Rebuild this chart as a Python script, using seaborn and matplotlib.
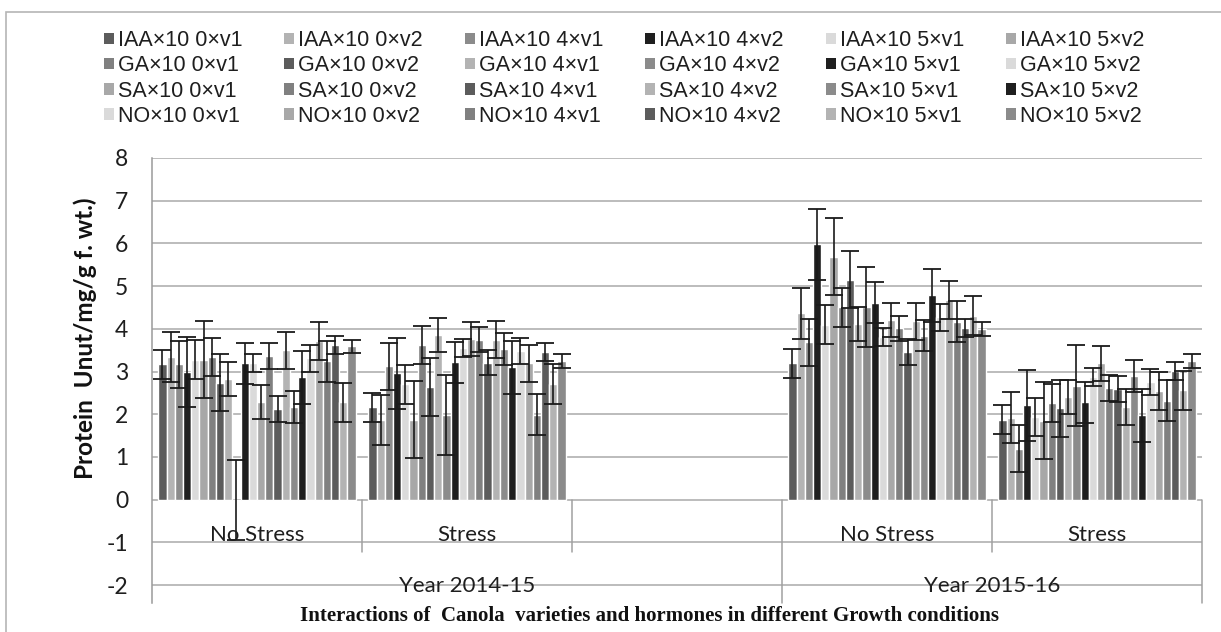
import numpy as np
import pandas as pd
import matplotlib
matplotlib.use("Agg")
import matplotlib.pyplot as plt
from matplotlib.patches import Rectangle, Patch
import seaborn as sns

# Treatments (hormone x dose x variety), in plotting order
SERIES = [
    "IAA×10 0×v1", "IAA×10 0×v2", "IAA×10 4×v1", "IAA×10 4×v2", "IAA×10 5×v1", "IAA×10 5×v2",
    "GA×10 0×v1", "GA×10 0×v2", "GA×10 4×v1", "GA×10 4×v2", "GA×10 5×v1", "GA×10 5×v2",
    "SA×10 0×v1", "SA×10 0×v2", "SA×10 4×v1", "SA×10 4×v2", "SA×10 5×v1", "SA×10 5×v2",
    "NO×10 0×v1", "NO×10 0×v2", "NO×10 4×v1", "NO×10 4×v2", "NO×10 5×v1", "NO×10 5×v2",
]

# Category slots on the x axis (the third slot of 2014-15 is left empty)
CATEGORIES = ["2014-15 No Stress", "2014-15 Stress", "2014-15 spare",
              "2015-16 No Stress", "2015-16 Stress"]
CONDITION_LABELS = ["No Stress", "Stress", "", "No Stress", "Stress"]
YEAR_LABELS = ["Year 2014-15", "Year 2015-16"]

# Protein content (Unut/mg/g f. wt.)
NS_2014 = [3.17, 3.34, 3.17, 2.99, 3.28, 3.28, 3.34, 2.74, 2.82, 0.00, 3.19, 3.20,
           2.28, 3.37, 2.12, 3.50, 2.17, 2.87, 3.31, 3.72, 3.24, 3.63, 2.28, 3.59]
S_2014 = [2.16, 1.87, 3.12, 2.96, 2.70, 1.87, 3.62, 2.64, 3.86, 1.98, 3.22, 3.55,
          3.76, 3.75, 3.21, 3.75, 3.53, 3.10, 3.48, 3.19, 1.99, 3.45, 2.71, 3.24]
NS_2015 = [3.19, 4.36, 3.68, 5.98, 4.10, 5.69, 4.50, 5.15, 4.12, 4.51, 4.61, 3.81,
           4.21, 4.01, 3.46, 4.18, 3.84, 4.79, 4.27, 4.67, 4.17, 4.01, 4.31, 3.99]
S_2015 = [1.87, 1.92, 1.19, 2.21, 1.94, 1.85, 2.26, 2.14, 2.41, 2.67, 2.28, 2.87,
          3.19, 2.62, 2.59, 2.17, 2.89, 1.98, 2.75, 2.55, 2.32, 3.02, 2.56, 3.24]

# Error bar half-lengths per treatment
ERR = [0.34, 0.59, 0.55, 0.83, 0.45, 0.90, 0.45, 0.67, 0.40, 0.94, 0.48, 0.21,
       0.40, 0.30, 0.30, 0.43, 0.37, 0.62, 0.31, 0.44, 0.48, 0.21, 0.46, 0.16]

# Grey palette cycling every seven series
GREYS = ["#5c5c5c", "#b3b3b3", "#8b8b8b", "#1f1f1f", "#dadada", "#a8a8a8", "#808080"]
PALETTE = [GREYS[i % len(GREYS)] for i in range(len(SERIES))]

rows = []
for cat, vals in zip([CATEGORIES[0], CATEGORIES[1], CATEGORIES[3], CATEGORIES[4]],
                     [NS_2014, S_2014, NS_2015, S_2015]):
    for s, v in zip(SERIES, vals):
        rows.append({"condition": cat, "treatment": s, "protein": v})
df = pd.DataFrame(rows)

sns.set_style("white")
plt.rcParams["font.family"] = ["Liberation Sans", "DejaVu Sans"]
plt.rcParams["axes.unicode_minus"] = False

W, H = 1221, 632
fig = plt.figure(figsize=(W / 100, H / 100), dpi=100)
fig.patch.set_facecolor("white")
ax = fig.add_axes([152 / W, 1 - 603 / H, 1050 / W, 445 / H])

BAR_W = 0.94
sns.barplot(data=df, x="condition", y="protein", hue="treatment",
            order=CATEGORIES, hue_order=SERIES, palette=PALETTE,
            width=BAR_W, gap=0, errorbar=None, saturation=1,
            legend=False, ax=ax, zorder=2)

# error bars on top of every bar
step = BAR_W / len(SERIES)
for bar in list(ax.patches):
    if bar is None:
        continue
    h = bar.get_height()
    if h is None or np.isnan(h):
        continue
    xc = bar.get_x() + bar.get_width() / 2
    cat = int(round(xc))
    idx = int(round((xc - cat + BAR_W / 2) / step - 0.5))
    ax.errorbar(xc, h, yerr=ERR[idx], fmt="none", ecolor="#1a1a1a",
                elinewidth=1.2, capsize=6.5, capthick=1.3, zorder=3)

YMIN = -2.42
ax.set_ylim(YMIN, 8)
ax.set_xlim(-0.5, 4.5)
ax.set_yticks(range(-2, 9))
ax.set_xticks([])
ax.set_xlabel("")
ax.set_ylabel("")
ax.yaxis.grid(True, color="#a9a9a9", lw=1.1)
ax.xaxis.grid(False)
ax.set_axisbelow(True)
for side in ["top", "right", "bottom"]:
    ax.spines[side].set_visible(False)
ax.spines["left"].set_color("#9a9a9a")
ax.spines["left"].set_linewidth(1.1)
ax.tick_params(axis="y", direction="out", length=5, width=1, color="#9a9a9a",
               pad=12, labelsize=16.5, labelcolor="#1e1e1e")
for lbl in ax.get_yticklabels():
    lbl.set_fontfamily("Lato")

# multi-level category axis drawn below the zero line
sep_col = "#a0a0a0"
for x in [0.5, 1.5, 3.5]:
    ax.plot([x, x], [0, -1.22], color=sep_col, lw=1.1, clip_on=False, zorder=1)
for x in [2.5, 4.5]:
    ax.plot([x, x], [0, YMIN], color=sep_col, lw=1.1, clip_on=False, zorder=1)
for i, lab in enumerate(CONDITION_LABELS):
    if lab:
        ax.text(i, -0.82, lab, ha="center", va="center", fontsize=16,
                fontfamily="Lato", color="#1e1e1e", zorder=4)
ax.text(1.0, -2.03, YEAR_LABELS[0], ha="center", va="center", fontsize=16,
        fontfamily="Lato", color="#1e1e1e", zorder=4)
ax.text(3.5, -2.03, YEAR_LABELS[1], ha="center", va="center", fontsize=16,
        fontfamily="Lato", color="#1e1e1e", zorder=4)

# axis titles
fig.text(85 / W, 1 - 338 / H, "Protein  Unut/mg/g f. wt.)", rotation=90,
         ha="center", va="center", fontsize=17.5, fontweight="bold",
         fontfamily="Lato", color="#111111")
fig.text(650 / W, 1 - 616 / H,
         "Interactions of  Canola  varieties and hormones in different Growth conditions",
         ha="center", va="center", fontsize=15, fontweight="bold",
         fontfamily="Liberation Serif", color="#111111")

# legend laid out row by row, six entries per row
handles = [Patch(facecolor=c, edgecolor="none") for c in PALETTE]
order = [r * 6 + c for c in range(6) for r in range(4)]
fig.legend([handles[k] for k in order], [SERIES[k] for k in order],
           ncol=6, loc="upper left", bbox_to_anchor=(104 / W, 1 - 30 / H),
           frameon=False, fontsize=15.5, handlelength=0.45, handleheight=0.45,
           handletextpad=0.2, columnspacing=1.95, labelspacing=0.2,
           borderpad=0, borderaxespad=0, labelcolor="#1e1e1e")

# outer chart frame
fig.add_artist(Rectangle((6 / W, -0.1), 1.2, 1.1 - 12 / H, transform=fig.transFigure,
                         fill=False, edgecolor="#b5b5b5", lw=1.2))

fig.savefig("out.png", dpi=100, facecolor="white")
